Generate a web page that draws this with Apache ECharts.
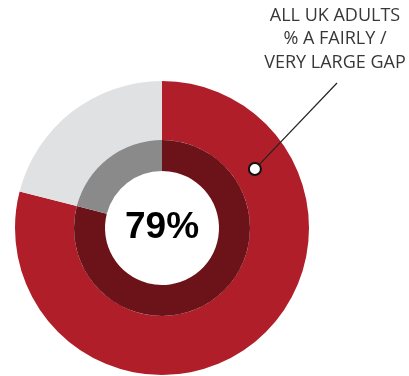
<!DOCTYPE html>
<html>
    <head>
        <meta charset="UTF-8">
        <title>All UK adults</title>
        <style type="text/css">
            body,html{ margin: 0; padding: 0; width: 409px; height: 376px; overflow: hidden; background: #fff;}
            .chart-box{ width: 409px; height: 376px;}
        </style>
    </head>
    <body>
        <div class="chart-box" id="chart"></div>
        <script src="https://cdn.jsdelivr.net/npm/echarts@6/dist/echarts.min.js"></script>
        <script type="text/javascript">
            // data
            var categories = ['A fairly / very large gap', 'Other'];
            var outerValues = [79, 21];
            var innerValues = [79, 21];
            var centerLabel = '79%';
            var noteLines = ['ALL UK ADULTS', '% A FAIRLY /', 'VERY LARGE GAP'];

            var cx = 162, cy = 228;
            var myChart = echarts.init(document.getElementById('chart'));

            // pointer dot sits partway round the red slice
            var dotAngle = (57.6) * Math.PI / 180;
            var dotR = 110;
            var dotX = cx + dotR * Math.sin(dotAngle);
            var dotY = cy - dotR * Math.cos(dotAngle);

            var option = {
                animation: false,
                series: [{
                    type: 'pie',
                    center: [cx, cy],
                    radius: [88, 147],
                    startAngle: 90,
                    clockwise: true,
                    silent: true,
                    label: { show: false },
                    labelLine: { show: false },
                    data: [
                        { name: categories[0], value: outerValues[0], itemStyle: { color: '#b01f29' } },
                        { name: categories[1], value: outerValues[1], itemStyle: { color: '#e0e1e3' } }
                    ]
                }, {
                    type: 'pie',
                    center: [cx, cy],
                    radius: [57, 88],
                    startAngle: 90,
                    clockwise: true,
                    silent: true,
                    labelLine: { show: false },
                    data: [
                        { name: categories[0], value: innerValues[0], itemStyle: { color: '#6b1318' },
                          label: { show: true, position: 'center', formatter: centerLabel,
                                   color: '#000', fontSize: 37, fontWeight: 'bold', fontFamily: 'Liberation Sans' } },
                        { name: categories[1], value: innerValues[1], itemStyle: { color: '#8a8a8a' }, label: { show: false } }
                    ]
                }],
                graphic: [{
                    type: 'line',
                    shape: { x1: dotX, y1: dotY, x2: 337, y2: 83 },
                    style: { stroke: '#222', lineWidth: 1.2 },
                    z: 10
                }, {
                    type: 'circle',
                    shape: { cx: dotX, cy: dotY, r: 6 },
                    style: { fill: '#fff', stroke: '#111', lineWidth: 2 },
                    z: 11
                }, {
                    type: 'text',
                    x: 335,
                    y: 4,
                    style: {
                        text: noteLines.join('\n'),
                        align: 'center',
                        fill: '#383838',
                        font: '18px "Open Sans"',
                        lineHeight: 23.5
                    },
                    z: 10
                }]
            };
            myChart.setOption(option);
        </script>
    </body>
</html>
